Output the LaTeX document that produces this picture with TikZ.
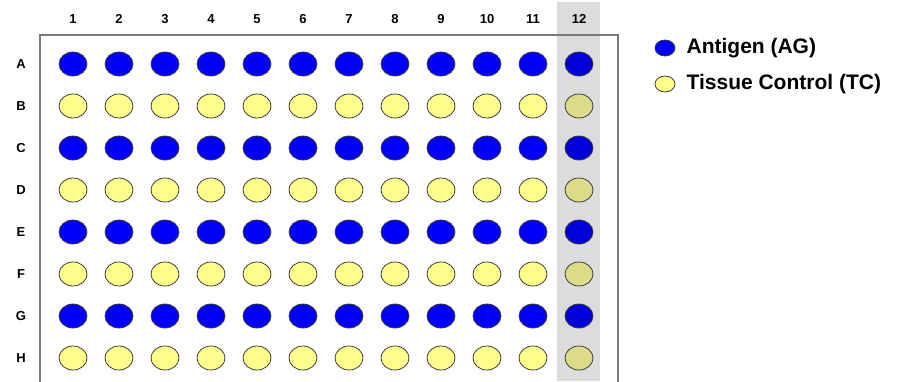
\documentclass[tikz,border=0pt]{standalone}
\usepackage{fontspec}
\setmainfont{Liberation Sans}
\usetikzlibrary{positioning,shapes.geometric}
\definecolor{wellBlue}{HTML}{0000F8}
\definecolor{wellBlueDim}{HTML}{0000D8}
\definecolor{wellYellow}{HTML}{FFFF8C}
\definecolor{wellYellowDim}{HTML}{DCDC88}
\definecolor{wellEdge}{HTML}{3C3C3C}
\definecolor{plateFrame}{HTML}{7A7A7A}
\definecolor{plateShade}{HTML}{DCDCDC}
\tikzset{
  well/.style={ellipse,draw=wellEdge,line width=0.8pt,minimum width=28pt,minimum height=24pt,inner sep=0pt},
  agwell/.style={well,fill=wellBlue},
  agwelldim/.style={well,fill=wellBlueDim},
  tcwell/.style={well,fill=wellYellow},
  tcwelldim/.style={well,fill=wellYellowDim},
  platelabel/.style={font=\bfseries\fontsize{13}{13}\selectfont,inner sep=0pt},
  keytext/.style={font=\bfseries\fontsize{21}{21}\selectfont,inner sep=0pt},
  keywell/.style={minimum width=20pt,minimum height=16pt}
}
\begin{document}
\begin{tikzpicture}[x=1pt,y=-1pt]
  \useasboundingbox (0,0) rectangle (899,381);
  % shaded last column and plate frame
  \fill[plateShade] (557,2) rectangle (600,381);
  \draw[plateFrame,line width=1.6pt] (40,383) |- (618,35) -- (618,383);
  % column headers
  \foreach \c in {1,...,12}
    \node[platelabel] (col\c) at ({73+46*(\c-1)},19) {\c};
  % rows of wells
  \foreach \r [count=\i] in {A,B,C,D,E,F,G,H} {
    \node[platelabel] (row\r) at (21,{64+42*(\i-1)}) {\r};
    \foreach \c in {1,...,12} {
      \ifodd\i \def\wellkind{agwell}\else \def\wellkind{tcwell}\fi
      \ifnum\c=12 \edef\wellkind{\wellkind dim}\fi
      \node[\wellkind] (\r\c) at ({73+46*(\c-1)},{64+42*(\i-1)}) {};
    }
  }
  % legend
  \node[agwell,keywell] (keyAG) at (665,48) {};
  \node[keytext,right=11pt of keyAG] (keyAGtext) {Antigen (AG)};
  \node[tcwell,keywell] (keyTC) at (665,84) {};
  \node[keytext,right=11pt of keyTC] (keyTCtext) {Tissue Control (TC)};
\end{tikzpicture}
\end{document}
